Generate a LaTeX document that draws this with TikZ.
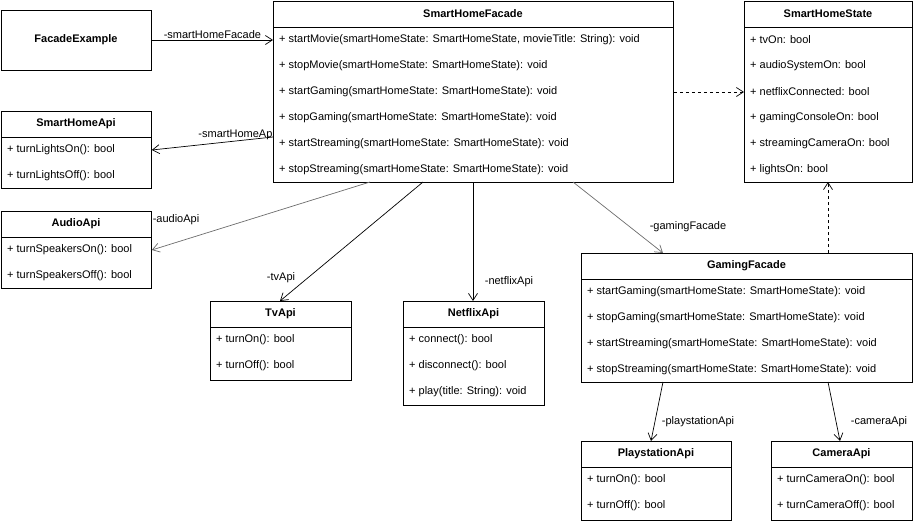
\documentclass[tikz,border=0pt]{standalone}
\usepackage{fontspec}
\setmainfont{Liberation Sans}
\usetikzlibrary{arrows.meta}
\begin{document}
\begin{tikzpicture}[x=1pt,y=-1pt,font=\fontsize{11}{13}\selectfont,
 box/.style={draw,fill=white,line width=0.8pt,anchor=north west,inner sep=0pt},
 hdr/.style={font=\fontsize{11}{13}\selectfont\bfseries},
 row/.style={anchor=west,inner sep=0pt},
 assoc/.style={-{Straight Barb[length=7pt,width=9pt]},line width=0.7pt},
 dep/.style={-{Straight Barb[length=7pt,width=9pt]},dashed,line width=0.7pt},
 lbl/.style={inner sep=1pt}]
\useasboundingbox (0,0) rectangle (914,523);
% class macro: name, x1,y1,x2,y2, title
\newcommand\umlbox[6]{%
 \node[box,minimum width=#4-#2,minimum height=#5-#3] (#1) at (#2,#3) {};
 \node[hdr] at ({(#2+#4)/2},#3+13) {#6};
 \draw[line width=0.8pt] (#2,#3+26) -- (#4,#3+26);}
\newcommand\rows[3]{% x, starty, list
 \foreach \t [count=\i from 0] in {#3} {\node[row] at (#1+6,#2+26*\i) {\t};}}

\node[box,minimum width=150,minimum height=60] (fe) at (1,10) {};
\node[hdr] at (76,40) {FacadeExample};

\umlbox{shf}{273}{1}{673}{182}{SmartHomeFacade}
\rows{273}{40}{{+ startMovie(smartHomeState: SmartHomeState, movieTitle: String): void},{+ stopMovie(smartHomeState: SmartHomeState): void},{+ startGaming(smartHomeState: SmartHomeState): void},{+ stopGaming(smartHomeState: SmartHomeState): void},{+ startStreaming(smartHomeState: SmartHomeState): void},{+ stopStreaming(smartHomeState: SmartHomeState): void}}

\umlbox{shs}{744}{1}{912}{182}{SmartHomeState}
\rows{744}{40}{{+ tvOn: bool},{+ audioSystemOn: bool},{+ netflixConnected: bool},{+ gamingConsoleOn: bool},{+ streamingCameraOn: bool},{+ lightsOn: bool}}

\umlbox{sha}{1}{111}{151}{188}{SmartHomeApi}
\rows{1}{150}{{+ turnLightsOn(): bool},{+ turnLightsOff(): bool}}

\umlbox{aa}{1}{211}{151}{288}{AudioApi}
\rows{1}{250}{{+ turnSpeakersOn(): bool},{+ turnSpeakersOff(): bool}}

\umlbox{tv}{210}{301}{351}{380}{TvApi}
\rows{210}{340}{{+ turnOn(): bool},{+ turnOff(): bool}}

\umlbox{nf}{403}{301}{544}{405}{NetflixApi}
\rows{403}{340}{{+ connect(): bool},{+ disconnect(): bool},{+ play(title: String): void}}

\umlbox{gf}{581}{253}{912}{382}{GamingFacade}
\rows{581}{292}{{+ startGaming(smartHomeState: SmartHomeState): void},{+ stopGaming(smartHomeState: SmartHomeState): void},{+ startStreaming(smartHomeState: SmartHomeState): void},{+ stopStreaming(smartHomeState: SmartHomeState): void}}

\umlbox{ps}{581}{441}{731}{520}{PlaystationApi}
\rows{581}{480}{{+ turnOn(): bool},{+ turnOff(): bool}}

\umlbox{ca}{771}{441}{912}{520}{CameraApi}
\rows{771}{480}{{+ turnCameraOn(): bool},{+ turnCameraOff(): bool}}

\draw[assoc] (fe.east |- 0,40) -- (shf.west |- 0,40) node[lbl,pos=0.5,above] {-smartHomeFacade};
\draw[assoc] (shf.west |- 0,137) -- (sha.east |- 0,150) node[lbl,pos=0.3,above] {-smartHomeApi};
\draw[assoc,draw=gray!85!black] (370,182) -- (aa.east |- 0,250);
\node[lbl] at (176,220) {-audioApi};
\draw[assoc] (423,182) -- (280,301);
\node[lbl] at (281,278) {-tvApi};
\draw[assoc] (473,182) -- (473,301);
\node[lbl] at (509,282) {-netflixApi};
\draw[assoc,draw=gray!85!black] (573,182) -- (663,253);
\node[lbl] at (688,227) {-gamingFacade};
\draw[dep] (shf.east |- 0,92) -- (shs.west |- 0,92);
\draw[dep] (828,253) -- (828,182);
\draw[assoc] (663,382) -- (651,441);
\node[lbl] at (698,422) {-playstationApi};
\draw[assoc] (828,382) -- (840,441);
\node[lbl] at (879,422) {-cameraApi};
\end{tikzpicture}
\end{document}
